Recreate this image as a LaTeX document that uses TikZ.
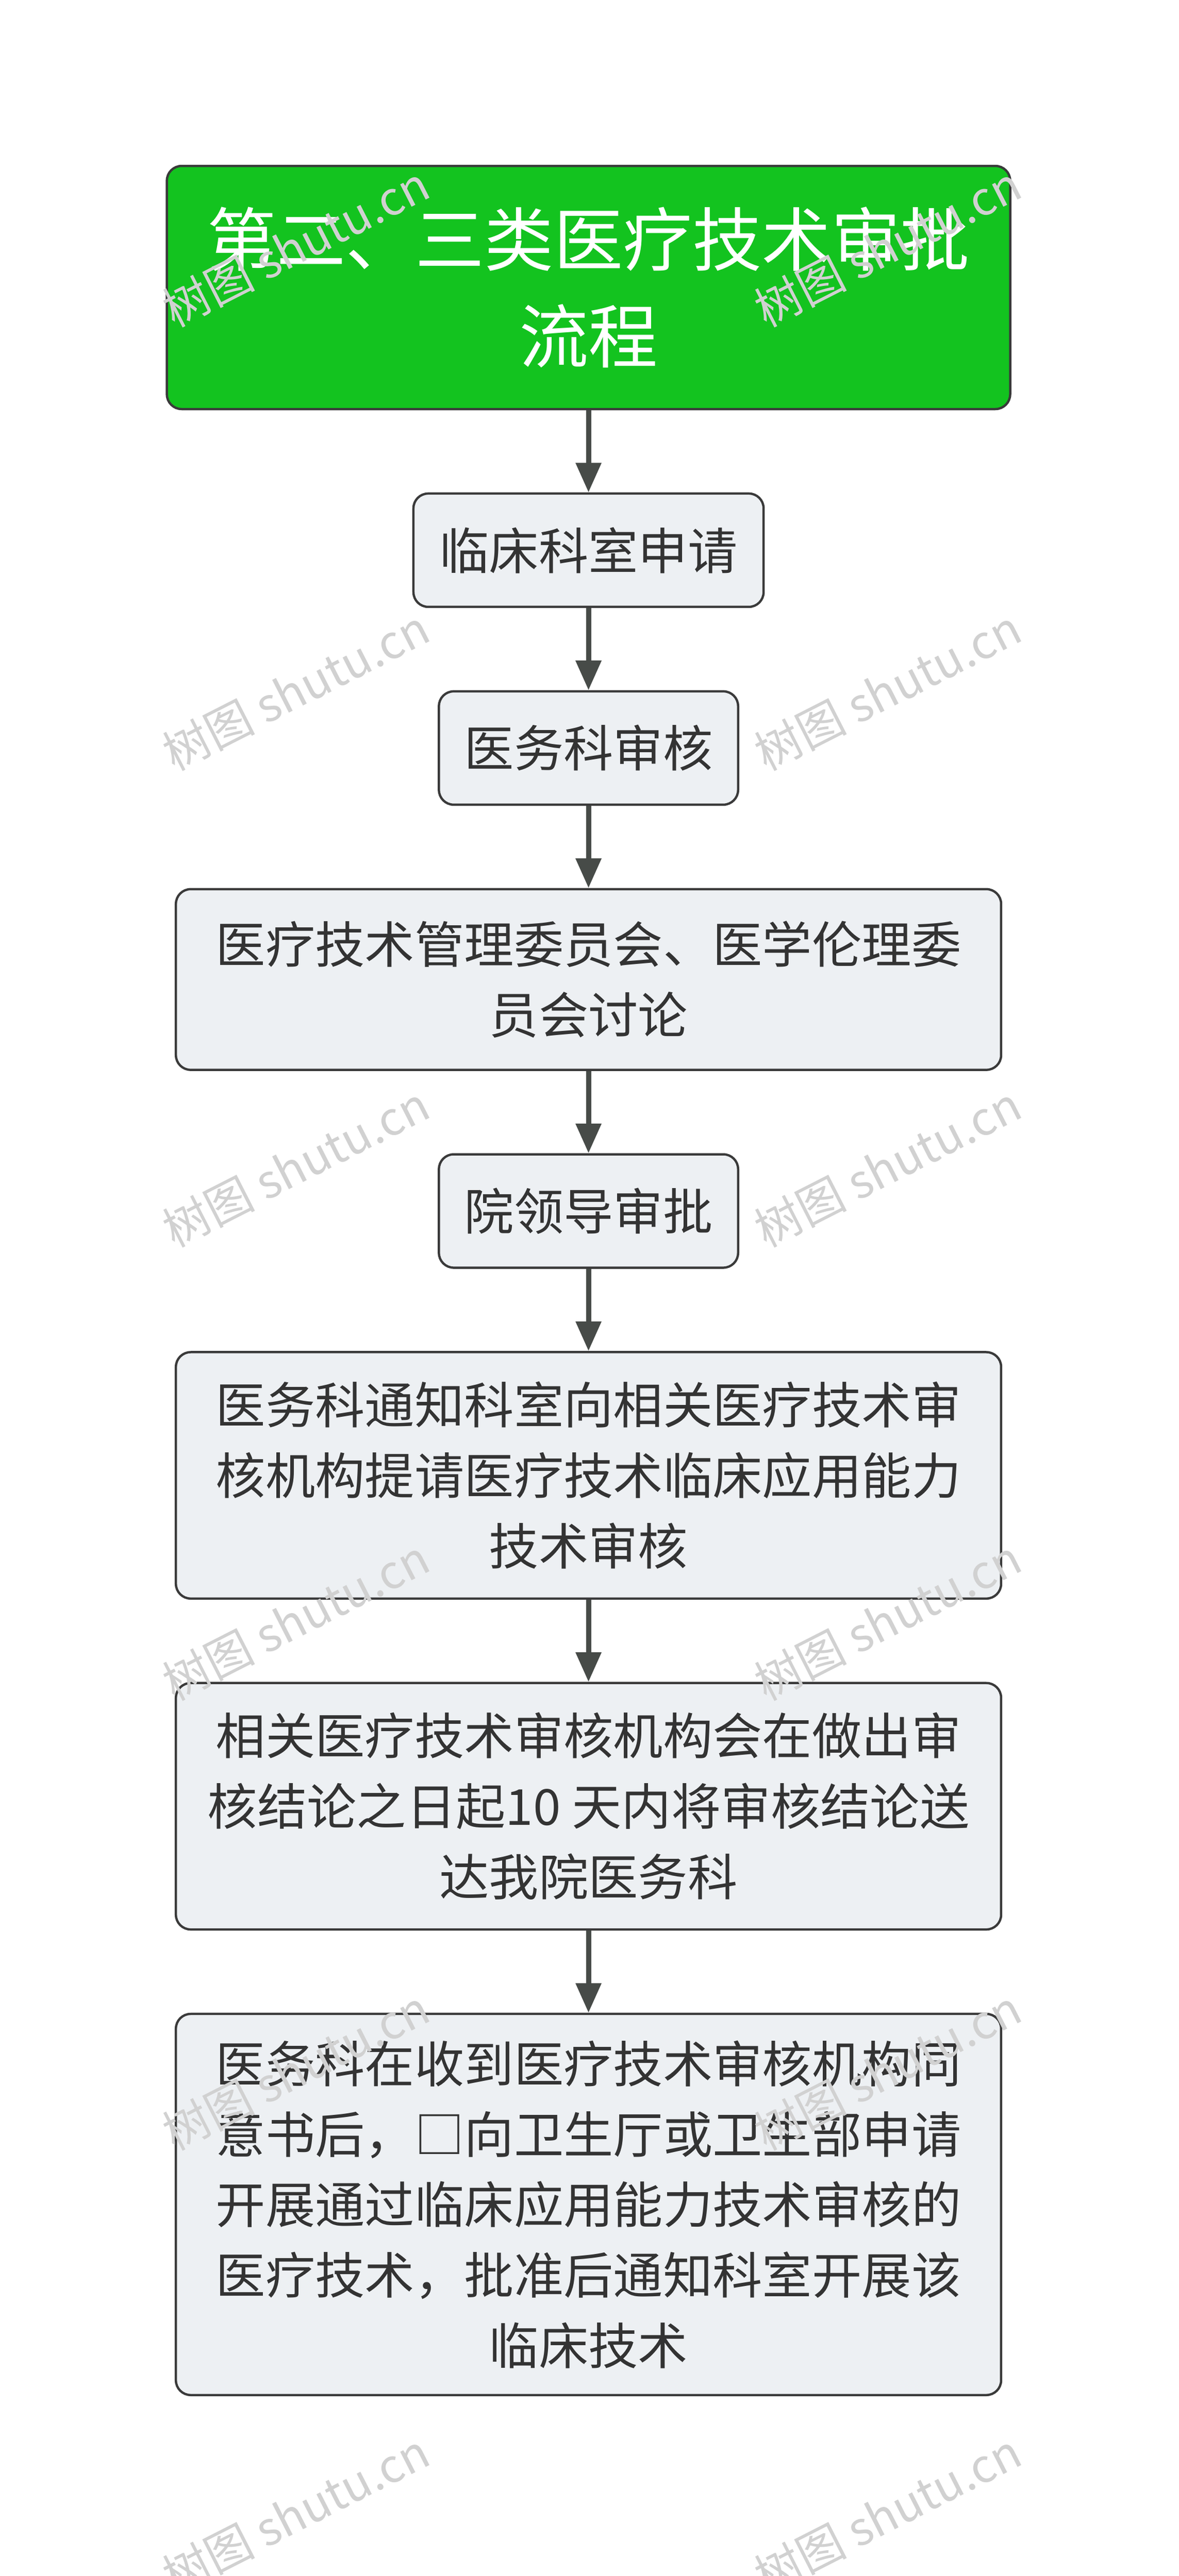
\documentclass[tikz,border=0pt]{standalone}
\usepackage{fontspec}
\setmainfont{Noto Sans CJK SC}
\usetikzlibrary{positioning, arrows.meta}
\definecolor{boxfill}{HTML}{EDF0F3}
\definecolor{boxline}{HTML}{3A3A3A}
\definecolor{topgreen}{HTML}{13C31F}
\definecolor{arrowc}{HTML}{474B48}
\tikzset{
  stepbox/.style={rectangle, rounded corners=0.45cm, draw=boxline, line width=2pt, fill=boxfill,
    align=center, font=\fontsize{43}{61}\selectfont, text=black!80},
  widebox/.style={stepbox, minimum width=25.1cm},
  flow/.style={-{Triangle[length=0.9cm,width=0.75cm]}, line width=4.5pt, draw=arrowc},
  mark text/.style={text=black!18, rotate=27, font=\fontsize{40}{40}\selectfont}
}
\begin{document}
\begin{tikzpicture}
\useasboundingbox (0,0) rectangle (35.85,-78.4);
\node[stepbox, fill=topgreen, text=white, minimum width=25.65cm, minimum height=7.4cm,
  font=\fontsize{60}{84}\selectfont] (T) at (17.9,-8.75) {第二、三类医疗技术审批\\流程};
\node[stepbox, minimum width=10.65cm, minimum height=3.45cm, below=2.5cm of T] (A) {临床科室申请};
\node[stepbox, minimum width=9.1cm, minimum height=3.45cm, below=2.5cm of A] (B) {医务科审核};
\node[widebox, minimum height=5.5cm, below=2.5cm of B] (C) {医疗技术管理委员会、医学伦理委\\员会讨论};
\node[stepbox, minimum width=9.1cm, minimum height=3.45cm, below=2.5cm of C] (D) {院领导审批};
\node[widebox, minimum height=7.5cm, below=2.5cm of D] (E) {医务科通知科室向相关医疗技术审\\核机构提请医疗技术临床应用能力\\技术审核};
\node[widebox, minimum height=7.5cm, below=2.5cm of E] (F) {相关医疗技术审核机构会在做出审\\核结论之日起10 天内将审核结论送\\达我院医务科};
\node[widebox, minimum height=11.6cm, below=2.5cm of F] (G) {医务科在收到医疗技术审核机构同\\意书后，□向卫生厅或卫生部申请\\开展通过临床应用能力技术审核的\\医疗技术，批准后通知科室开展该\\临床技术};
\draw[flow] (T) -- (A);
\draw[flow] (A) -- (B);
\draw[flow] (B) -- (C);
\draw[flow] (C) -- (D);
\draw[flow] (D) -- (E);
\draw[flow] (E) -- (F);
\draw[flow] (F) -- (G);
% watermarks
\foreach \y in {7.5,21,35.5,49.3,63,76.5}{
  \node[mark text] at (9,-\y) {树图 shutu.cn};
  \node[mark text] at (27,-\y) {树图 shutu.cn};
}
\end{tikzpicture}
\end{document}
